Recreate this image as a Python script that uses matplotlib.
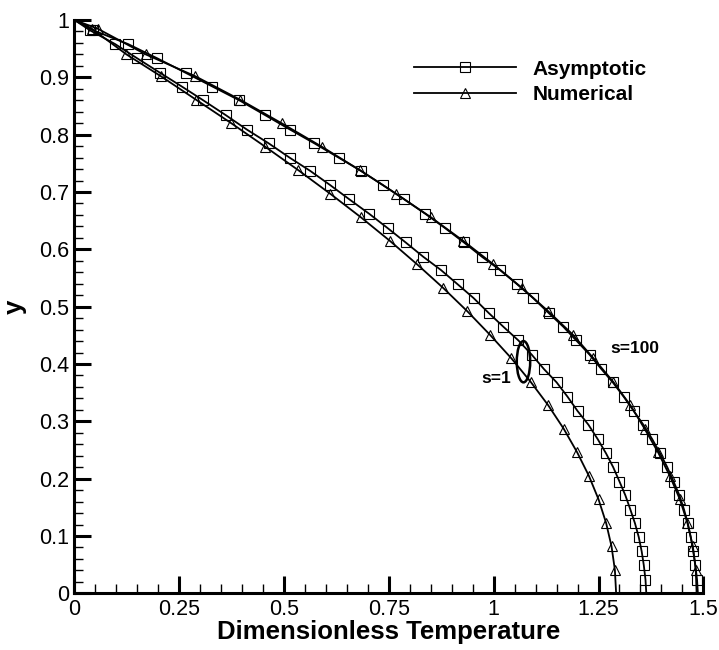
import numpy as np
import matplotlib
matplotlib.use("Agg")
from matplotlib import pyplot as plt
from matplotlib.patches import Ellipse
from matplotlib.lines import Line2D
from matplotlib.ticker import MultipleLocator, FormatStrFormatter

plt.rcParams['font.family'] = ['Liberation Sans', 'DejaVu Sans']

# asymptotic solution (squares)
y_asym = [0.982, 0.958, 0.933, 0.908, 0.884, 0.860, 0.834, 0.809, 0.785, 0.760,
          0.737, 0.712, 0.687, 0.662, 0.637, 0.612, 0.587, 0.564, 0.539, 0.515,
          0.489, 0.465, 0.441, 0.416, 0.391, 0.368, 0.343, 0.318, 0.294, 0.269,
          0.244, 0.220, 0.195, 0.171, 0.146, 0.122, 0.098, 0.073, 0.049, 0.024]
T_asym_s100 = [0.045, 0.128, 0.198, 0.265, 0.329, 0.393, 0.455, 0.514, 0.572, 0.630,
               0.683, 0.736, 0.787, 0.837, 0.884, 0.929, 0.972, 1.015, 1.056, 1.094,
               1.131, 1.166, 1.197, 1.229, 1.257, 1.284, 1.310, 1.334, 1.357, 1.378,
               1.397, 1.414, 1.429, 1.443, 1.454, 1.463, 1.470, 1.476, 1.481, 1.485]
T_asym_s1 = [0.037, 0.097, 0.150, 0.204, 0.256, 0.307, 0.361, 0.411, 0.463, 0.513,
             0.562, 0.610, 0.656, 0.703, 0.747, 0.790, 0.832, 0.874, 0.914, 0.952,
             0.988, 1.023, 1.059, 1.091, 1.120, 1.150, 1.176, 1.200, 1.226, 1.248,
             1.268, 1.285, 1.300, 1.314, 1.326, 1.337, 1.346, 1.353, 1.358, 1.362]

# numerical solution (triangles)
y_num = [0.985, 0.940, 0.902, 0.861, 0.820, 0.779, 0.738, 0.697, 0.656, 0.615,
         0.574, 0.533, 0.492, 0.451, 0.410, 0.369, 0.328, 0.287, 0.246, 0.205,
         0.164, 0.123, 0.082, 0.041]
T_num_s100 = [0.055, 0.170, 0.288, 0.395, 0.494, 0.590, 0.681, 0.767, 0.850, 0.927,
              0.999, 1.067, 1.130, 1.189, 1.238, 1.285, 1.326, 1.360, 1.392, 1.420,
              1.444, 1.462, 1.475, 1.482]
T_num_s1 = [0.041, 0.124, 0.206, 0.290, 0.374, 0.455, 0.534, 0.610, 0.683, 0.752,
            0.817, 0.879, 0.937, 0.991, 1.042, 1.088, 1.130, 1.167, 1.199, 1.227,
            1.250, 1.268, 1.281, 1.289]

# wall values (y=0) where the curves meet the axis
T_wall = {'asym_s100': 1.487, 'num_s100': 1.484, 'asym_s1': 1.364, 'num_s1': 1.292}

fig = plt.figure(figsize=(7.19, 6.5), dpi=100)
ax = fig.add_axes([0.1036, 0.0872, 0.8746, 0.8820])


def curve(T, y, Tw, marker):
    xs = [0.0] + list(T) + [Tw]
    ys = [1.0] + list(y) + [0.0]
    ax.plot(xs, ys, color='black', lw=1.3, marker=marker, ms=7, mfc='none',
            mec='black', mew=0.8, markevery=slice(1, -1), zorder=3)


curve(T_num_s100, y_num, T_wall['num_s100'], '^')
curve(T_asym_s100, y_asym, T_wall['asym_s100'], 's')
curve(T_num_s1, y_num, T_wall['num_s1'], '^')
curve(T_asym_s1, y_asym, T_wall['asym_s1'], 's')

ax.add_patch(Ellipse((1.071, 0.404), 0.032, 0.072, fill=False, lw=1.8,
                     ec='black', zorder=4))
ax.text(1.005, 0.375, 's=1', fontsize=12.5, fontweight='bold', ha='center', va='center')
ax.text(1.336, 0.427, 's=100', fontsize=12.5, fontweight='bold', ha='center', va='center')

ax.set_xlim(0, 1.5)
ax.set_ylim(0, 1)
for s in ['top', 'right']:
    ax.spines[s].set_visible(False)
for s in ['left', 'bottom']:
    ax.spines[s].set_linewidth(2.2)

ax.xaxis.set_major_locator(MultipleLocator(0.25))
ax.xaxis.set_minor_locator(MultipleLocator(0.05))
ax.yaxis.set_major_locator(MultipleLocator(0.1))
ax.yaxis.set_minor_locator(MultipleLocator(0.02))
ax.xaxis.set_major_formatter(FormatStrFormatter('%g'))
ax.yaxis.set_major_formatter(FormatStrFormatter('%g'))
ax.tick_params(which='major', direction='in', length=12, width=2.2, labelsize=15.5, pad=4)
ax.tick_params(which='minor', direction='in', length=6.5, width=1.0)
ax.tick_params(axis='x', which='both', top=False)
ax.tick_params(axis='y', which='both', right=False)

ax.set_xlabel('Dimensionless Temperature', fontsize=18.5, fontweight='bold', labelpad=0)
ax.set_ylabel('y', fontsize=18.5, fontweight='bold', labelpad=9)

handles = [Line2D([], [], color='black', lw=1.3, marker='s', ms=7, mfc='none', mew=0.8),
           Line2D([], [], color='black', lw=1.3, marker='^', ms=7, mfc='none', mew=0.8)]
fig.legend(handles, ['Asymptotic', 'Numerical'], loc='center left',
           bbox_to_anchor=(0.576, 0.874), frameon=False, borderpad=0, borderaxespad=0,
           handlelength=4.9, handletextpad=0.8, labelspacing=0.3,
           prop={'weight': 'bold', 'size': 15}, numpoints=1)

plt.savefig('out.png', dpi=100)
